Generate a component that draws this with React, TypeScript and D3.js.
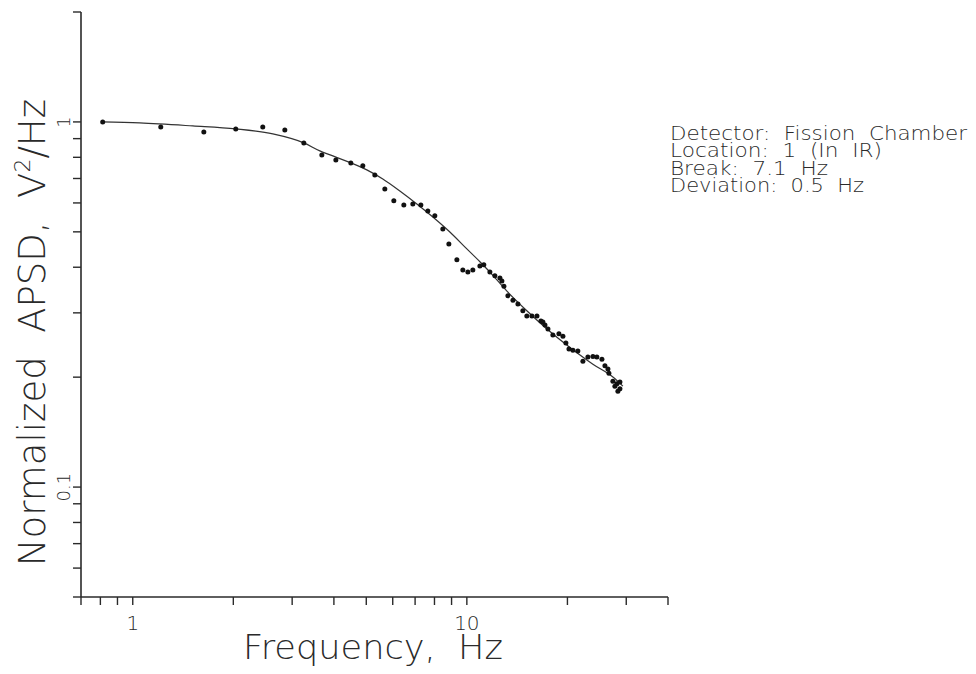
import React from "react";
import * as d3 from "d3";

const pointFreq = [0.813, 1.213, 1.632, 2.034, 2.45, 2.852, 3.251, 3.681, 4.054, 4.495, 4.882, 5.304, 5.682, 6.045, 6.477, 6.891, 7.283, 7.642, 8.019, 8.475, 8.834, 9.335, 9.727, 10.07, 10.42, 10.94, 11.24, 11.72, 12.13, 12.56, 12.73, 12.91, 13.27, 13.74, 14.22, 14.71, 15.12, 15.66, 16.21, 16.66, 16.89, 17.13, 17.49, 18.09, 18.86, 19.39, 19.79, 20.21, 20.77, 21.49, 22.25, 23.03, 23.84, 24.5, 25.37, 25.9, 26.44, 26.62, 27.36, 28.13, 28.72, 27.74, 28.32, 28.72];
const pointApsd = [1.0, 0.969, 0.939, 0.957, 0.969, 0.951, 0.876, 0.812, 0.787, 0.772, 0.758, 0.716, 0.655, 0.608, 0.592, 0.596, 0.592, 0.57, 0.553, 0.509, 0.463, 0.419, 0.393, 0.388, 0.393, 0.403, 0.406, 0.388, 0.379, 0.374, 0.367, 0.355, 0.334, 0.325, 0.317, 0.304, 0.294, 0.294, 0.294, 0.285, 0.283, 0.278, 0.271, 0.261, 0.263, 0.259, 0.248, 0.239, 0.237, 0.236, 0.221, 0.227, 0.228, 0.227, 0.224, 0.215, 0.2105, 0.205, 0.195, 0.192, 0.186, 0.189, 0.183, 0.194];

const fitFreq = [0.808, 1.049, 1.512, 2.034, 2.626, 3.251, 3.63, 3.971, 5.018, 5.604, 6.302, 7.085, 7.911, 8.895, 10.0, 10.94, 11.72, 13.18, 15.12, 17.13, 19.39, 23.84, 27.36, 29.31];
const fitApsd = [1.0, 0.9937, 0.975, 0.957, 0.927, 0.876, 0.833, 0.807, 0.739, 0.698, 0.647, 0.596, 0.549, 0.4995, 0.449, 0.414, 0.388, 0.344, 0.304, 0.274, 0.2496, 0.217, 0.2001, 0.189];

const xTicks = [0.7, 0.8, 0.9, 1, 2, 3, 4, 5, 6, 7, 8, 9, 10, 20, 30, 40];
const xTickLabels = [1, 10];
const yTicks = [0.05, 0.06, 0.07, 0.08, 0.09, 0.1, 0.2, 0.3, 0.4, 0.5, 0.6, 0.7, 0.8, 0.9, 1, 2];
const yTickLabels = ["0.1", "1"];
const legendLines = ["Detector:  Fission  Chamber", "Location:  1  (In  IR)", "Break:  7.1  Hz", "Deviation:  0.5  Hz"];
const legendWidths = [297, 212, 158, 194];

const FONT = "'DejaVu Sans', sans-serif";
const INK = "#2a2a2a";

export default function App() {
  const x = d3.scaleLog().domain([0.7, 40]).range([81, 668]);
  const y = d3.scaleLog().domain([0.05, 2]).range([597, 12]);

  const fitPts: [number, number][] = fitFreq.map((f, i) => [x(f), y(fitApsd[i])]);
  const line = d3.line().curve(d3.curveMonotoneX)(fitPts) || "";

  return (
    <svg width={976} height={674} style={{ position: "absolute", left: 0, top: 0, background: "#fff" }}>
      <rect x={0} y={0} width={976} height={674} fill="#fff" />
      {/* axes */}
      <line x1={x(0.7)} x2={x(0.7)} y1={y(2)} y2={y(0.05)} stroke={INK} strokeWidth={1.6} />
      <line x1={x(0.7)} x2={x(40)} y1={y(0.05)} y2={y(0.05)} stroke={INK} strokeWidth={1.6} />
      {xTicks.map((t) => (
        <line key={"xt" + t} x1={x(t)} x2={x(t)} y1={y(0.05)} y2={y(0.05) + 8} stroke={INK} strokeWidth={1.4} />
      ))}
      {yTicks.map((t) => (
        <line key={"yt" + t} x1={x(0.7) - 8} x2={x(0.7)} y1={y(t)} y2={y(t)} stroke={INK} strokeWidth={1.4} />
      ))}
      {xTickLabels.map((t) => (
        <text key={"xl" + t} x={x(t)} y={630} textAnchor="middle" fontFamily={FONT} fontWeight={200} fontSize={20} fill={INK}>
          {t}
        </text>
      ))}
      {yTickLabels.map((t) => (
        <text
          key={"yl" + t}
          transform={`translate(70,${y(+t)}) rotate(-90)`}
          textAnchor="middle"
          fontFamily={FONT}
          fontWeight={200}
          fontSize={18}
          fill={INK}
        >
          {t}
        </text>
      ))}
      {/* fit line */}
      <path d={line} fill="none" stroke="#333" strokeWidth={1.2} />
      {/* data points */}
      {pointFreq.map((f, i) => (
        <circle key={"p" + i} cx={x(f)} cy={y(pointApsd[i])} r={2.5} fill="#111" />
      ))}
      {/* axis titles */}
      <text
        x={373}
        y={659}
        textAnchor="middle"
        fontFamily={FONT}
        fontWeight={200}
        fontSize={34}
        fill={INK}
        textLength={260}
        lengthAdjust="spacingAndGlyphs"
        style={{ whiteSpace: "pre" }}
      >
        {"Frequency,  Hz"}
      </text>
      <text
        transform="translate(45,332.5) rotate(-90)"
        textAnchor="middle"
        fontFamily={FONT}
        fontWeight={200}
        fontSize={37}
        fill={INK}
        style={{ whiteSpace: "pre" }}
      >
        {"Normalized  APSD,  V"}
        <tspan fontSize={22} dy={-15}>2</tspan>
        <tspan dy={15}>/Hz</tspan>
      </text>
      {/* legend */}
      {legendLines.map((s, i) => (
        <text
          key={"lg" + i}
          x={670}
          y={139.5 + i * 17.6}
          fontFamily={FONT}
          fontWeight={200}
          fontSize={19}
          fill={INK}
          textLength={legendWidths[i]}
          lengthAdjust="spacingAndGlyphs"
          style={{ whiteSpace: "pre" }}
        >
          {s}
        </text>
      ))}
    </svg>
  );
}
